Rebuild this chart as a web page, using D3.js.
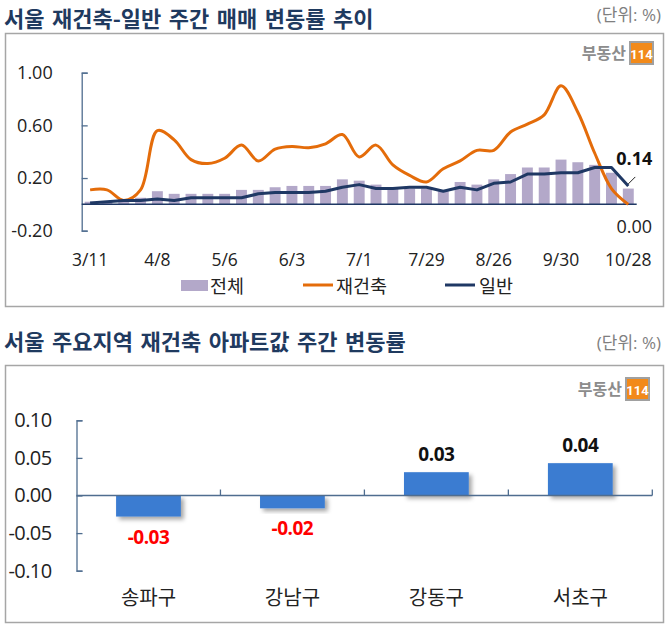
<!DOCTYPE html>
<html><head><meta charset="utf-8">
<script src="https://cdn.jsdelivr.net/npm/d3@7"></script>
<style>
html,body{margin:0;padding:0;background:#fff;}
svg{display:block;font-family:"Open Sans","Noto Sans CJK KR",sans-serif;}
</style></head>
<body>
<svg id="c" width="670" height="632"></svg>
<script>
// ---------- data: top chart ----------
const weeks = ["3/11","3/18","3/25","4/1","4/8","4/15","4/22","4/29","5/6","5/13","5/20","5/27","6/3","6/10","6/17","6/24","7/1","7/8","7/15","7/22","7/29","8/5","8/12","8/19","8/26","9/2","9/9","9/23","9/30","10/7","10/14","10/21","10/28"];
const weekLabels = ["3/11","4/8","5/6","6/3","7/1","7/29","8/26","9/30","10/28"];
const totalChange = [0.02,0.02,0.03,0.05,0.10,0.08,0.08,0.08,0.08,0.11,0.11,0.13,0.14,0.14,0.14,0.19,0.18,0.15,0.13,0.12,0.12,0.10,0.17,0.15,0.19,0.23,0.28,0.28,0.34,0.32,0.30,0.24,0.12];
const rebuildChange = [0.11,0.11,0.03,0.11,0.56,0.49,0.34,0.31,0.35,0.45,0.33,0.42,0.44,0.43,0.46,0.53,0.36,0.45,0.30,0.22,0.17,0.27,0.33,0.41,0.41,0.55,0.61,0.68,0.90,0.70,0.39,0.12,0.00];
const generalChange = [0.01,0.02,0.03,0.03,0.04,0.03,0.05,0.05,0.05,0.05,0.08,0.09,0.09,0.09,0.10,0.13,0.15,0.12,0.12,0.13,0.13,0.10,0.13,0.11,0.16,0.17,0.23,0.23,0.24,0.24,0.28,0.28,0.14];
const topTicks = [-0.2,0.2,0.6,1.0];
const seriesNames = ["전체","재건축","일반"];

// ---------- data: bottom chart ----------
const districts = ["송파구","강남구","강동구","서초구"];
const districtChange = [-0.028,-0.017,0.031,0.043];
const bottomTicks = [-0.10,-0.05,0.00,0.05,0.10];

const C = {bar:"#b3a8c9", orange:"#e46c0a", navy:"#1f3864", blue:"#3a7cd1", title:"#1f3a5f", grey:"#7f7f7f", axis:"#4f6d8f"};
const fmt = v => v.toFixed(2);

const svg = d3.select("#c");
const defs = svg.append("defs");
const f = defs.append("filter").attr("id","sh").attr("x","-20%").attr("y","-20%").attr("width","150%").attr("height","160%");
f.append("feDropShadow").attr("dx",3).attr("dy",3).attr("stdDeviation",2).attr("flood-color","#000").attr("flood-opacity",0.35);

// ---------- titles ----------
function title(txt, y, ws){
  svg.append("text").attr("x",4).attr("y",y).attr("font-size",22).attr("font-weight","bold")
    .attr("word-spacing",ws).attr("fill",C.title).attr("font-family","'Noto Sans CJK KR',sans-serif").text(txt);
}
title("서울 재건축-일반 주간 매매 변동률 추이",26.5,2.5);
title("서울 주요지역 재건축 아파트값 주간 변동률",350,2.5);
[21,349].forEach(y=>{
  svg.append("text").attr("x",661).attr("y",y).attr("text-anchor","end").attr("font-size",17)
    .attr("fill",C.grey).text("(단위: %)");
});

// panels
svg.append("rect").attr("x",5.5).attr("y",33.5).attr("width",658).attr("height",273).attr("fill","none").attr("stroke","#a6a6a6").attr("stroke-width",1.5);
svg.append("rect").attr("x",5.5).attr("y",365.5).attr("width",658).attr("height",257).attr("fill","none").attr("stroke","#a6a6a6").attr("stroke-width",1.5);

// logos
function logo(xEnd, yTop){
  const g = svg.append("g");
  g.append("text").attr("x",xEnd-27).attr("y",yTop+16.5).attr("text-anchor","end").attr("font-size",16)
    .attr("font-weight","bold").attr("fill","#8c8c8c").attr("font-family","'Noto Sans CJK KR',sans-serif").text("부동산");
  g.append("rect").attr("x",xEnd-23).attr("y",yTop).attr("width",23).attr("height",22).attr("fill","#f28a1a").attr("stroke","#a0a0a0").attr("stroke-width",2);
  g.append("text").attr("x",xEnd-11.5).attr("y",yTop+16.5).attr("text-anchor","middle").attr("font-size",13)
    .attr("font-weight","bold").attr("fill","#fff").attr("font-family","'Liberation Sans Narrow','Roboto',sans-serif").text("114");
}
logo(653,42);
logo(649,378);

// ---------- top chart ----------
const x1 = d3.scaleBand().domain(weeks).range([81.7,636.7]).paddingInner(0.35).paddingOuter(0.175);
const xc = d => x1(d) + x1.bandwidth()/2;
const y1 = d3.scaleLinear().domain([-0.2,1.0]).range([230.7,72.7]);

svg.append("g").selectAll("rect").data(weeks).join("rect")
  .attr("x",d=>x1(d)).attr("width",x1.bandwidth())
  .attr("y",(d,i)=>y1(totalChange[i])).attr("height",(d,i)=>y1(0)-y1(totalChange[i]))
  .attr("fill",C.bar);

const yAx1 = d3.axisLeft(y1).tickValues(topTicks).tickFormat(fmt).tickSizeInner(-6).tickSizeOuter(-6).tickPadding(29);
const ga1 = svg.append("g").attr("transform","translate(81.7,0)").call(yAx1);
ga1.selectAll("path,line").attr("stroke",C.axis).attr("stroke-width",1.3);
ga1.selectAll("text").attr("font-size",18).attr("fill","#222").attr("font-family","'Open Sans',sans-serif");

svg.append("line").attr("x1",81.7).attr("x2",636.7).attr("y1",y1(0)).attr("y2",y1(0)).attr("stroke",C.navy).attr("stroke-width",1.5);

const xAx1 = d3.axisBottom(x1).tickValues(weekLabels).tickSize(0).tickPadding(0);
const gx1 = svg.append("g").attr("transform","translate(0,254)").call(xAx1);
gx1.select(".domain").remove();
gx1.selectAll("text").attr("font-size",17.5).attr("fill","#222").attr("font-family","'Open Sans',sans-serif");

const lineR = d3.line().x((d,i)=>xc(weeks[i])).y(d=>y1(d)).curve(d3.curveCatmullRom.alpha(0.5));
const lineG = d3.line().x((d,i)=>xc(weeks[i])).y(d=>y1(d));
svg.append("path").attr("d",lineR(rebuildChange)).attr("fill","none").attr("stroke",C.orange).attr("stroke-width",3).attr("stroke-linejoin","round");
svg.append("path").attr("d",lineG(generalChange)).attr("fill","none").attr("stroke",C.navy).attr("stroke-width",3).attr("stroke-linejoin","round");

// end labels
const lastW = weeks[weeks.length-1];
const gEnd = generalChange[generalChange.length-1];
const rEnd = rebuildChange[rebuildChange.length-1];
svg.append("line").attr("x1",xc(lastW)).attr("y1",y1(gEnd)-2).attr("x2",xc(lastW)+7).attr("y2",y1(gEnd)-9).attr("stroke","#222").attr("stroke-width",1);
svg.append("text").attr("x",xc(lastW)+6).attr("y",y1(gEnd)-21).attr("text-anchor","middle").attr("font-size",18).attr("font-weight","bold").attr("fill","#111").text(fmt(gEnd));
svg.append("text").attr("x",xc(lastW)+6).attr("y",y1(rEnd)+29).attr("text-anchor","middle").attr("font-size",18).attr("fill","#222").text(fmt(rEnd));

// legend
const lg = svg.append("g").attr("font-family","'Noto Sans CJK KR',sans-serif").attr("font-size",18.5).attr("fill","#222");
lg.append("rect").attr("x",181).attr("y",280).attr("width",27).attr("height",11).attr("fill",C.bar);
lg.append("text").attr("x",210).attr("y",293).text(seriesNames[0]);
lg.append("line").attr("x1",303).attr("x2",333).attr("y1",285).attr("y2",285).attr("stroke",C.orange).attr("stroke-width",3);
lg.append("text").attr("x",336).attr("y",293).text(seriesNames[1]);
lg.append("line").attr("x1",445).attr("x2",475).attr("y1",285).attr("y2",285).attr("stroke",C.navy).attr("stroke-width",3);
lg.append("text").attr("x",479).attr("y",293).text(seriesNames[2]);

// ---------- bottom chart ----------
const x2 = d3.scaleBand().domain(districts).range([76.5,652.3]).paddingInner(0.55).paddingOuter(0.275);
const y2 = d3.scaleLinear().domain([-0.1,0.1]).range([570.7,420.3]);

const yAx2 = d3.axisLeft(y2).tickValues(bottomTicks).tickFormat(fmt).tickSizeInner(-6).tickSizeOuter(-6).tickPadding(25);
const ga2 = svg.append("g").attr("transform","translate(76.5,0)").call(yAx2);
ga2.selectAll("path,line").attr("stroke",C.axis).attr("stroke-width",1.3);
ga2.selectAll("text").attr("font-size",20).attr("fill","#222").attr("letter-spacing","-0.6").attr("font-family","'Open Sans',sans-serif");

svg.append("g").selectAll("rect").data(districts).join("rect")
  .attr("x",d=>x2(d)).attr("width",x2.bandwidth())
  .attr("y",(d,i)=>y2(Math.max(0,districtChange[i])))
  .attr("height",(d,i)=>Math.abs(y2(districtChange[i])-y2(0)))
  .attr("fill",C.blue).attr("filter","url(#sh)");

svg.append("line").attr("x1",76.5).attr("x2",652.3).attr("y1",y2(0)).attr("y2",y2(0)).attr("stroke",C.axis).attr("stroke-width",1.5);
svg.append("g").selectAll("line").data(districts).join("line")
  .attr("x1",d=>x2(d)+x2.bandwidth()+x2.step()*0.275).attr("x2",d=>x2(d)+x2.bandwidth()+x2.step()*0.275)
  .attr("y1",y2(0)).attr("y2",y2(0)-6).attr("stroke",C.axis).attr("stroke-width",1.3);

const xAx2 = d3.axisBottom(x2).tickSize(0).tickPadding(0);
const gx2 = svg.append("g").attr("transform","translate(0,591)").call(xAx2);
gx2.select(".domain").remove();
gx2.selectAll("text").attr("font-size",20).attr("fill","#222").attr("font-family","'Noto Sans CJK KR',sans-serif");

svg.append("g").selectAll("text").data(districts).join("text")
  .attr("x",d=>x2(d)+x2.bandwidth()/2)
  .attr("y",(d,i)=>districtChange[i]>=0 ? y2(districtChange[i])-11 : y2(districtChange[i])+27)
  .attr("text-anchor","middle").attr("font-size",19).attr("font-weight","bold").attr("letter-spacing","-0.5")
  .attr("fill",(d,i)=>districtChange[i]>=0?"#111":"#ff0000")
  .text((d,i)=>fmt(districtChange[i]));
</script>
</body></html>
